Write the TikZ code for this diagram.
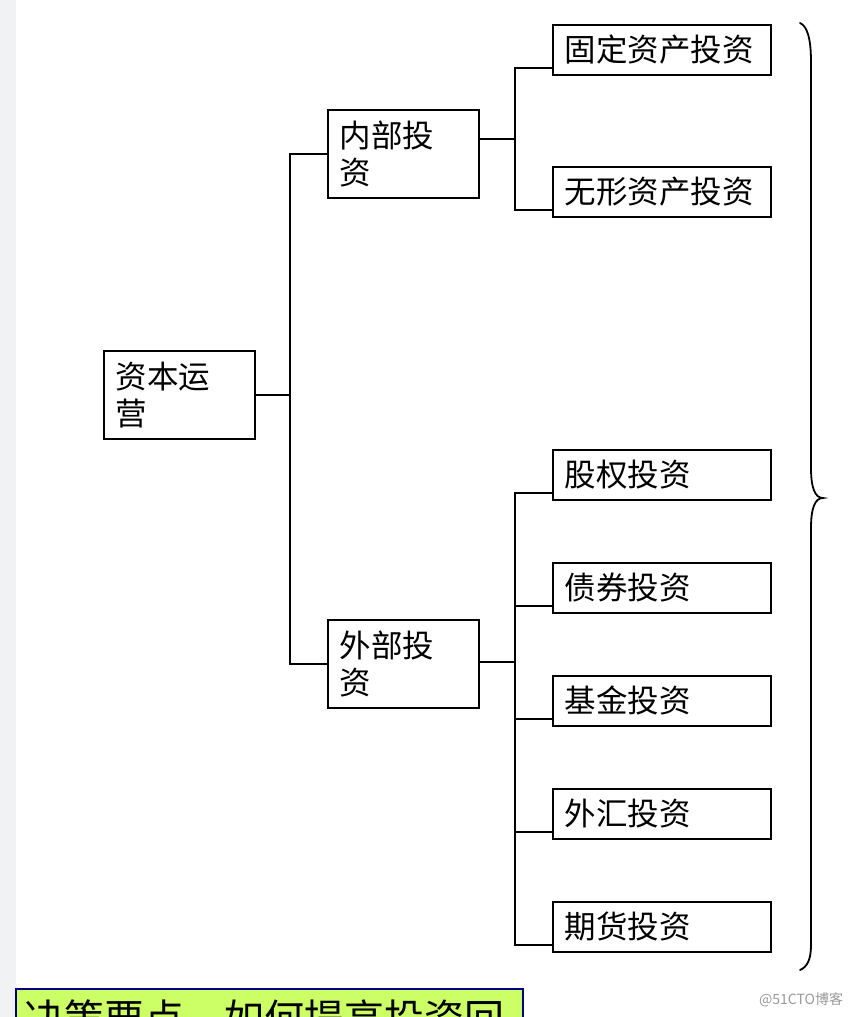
\documentclass[tikz,border=0pt]{standalone}
\usepackage{fontspec}
\newfontfamily\cjk{Noto Sans CJK SC}
\usetikzlibrary{calc}
\definecolor{strip}{HTML}{F1F2F4}
\definecolor{notefill}{HTML}{CCFF66}
\definecolor{noteline}{HTML}{000080}
\begin{document}
\begin{tikzpicture}[x=1pt,y=-1pt,
  box/.style={draw=black, line width=1.8pt, fill=white, anchor=north west,
    inner xsep=12pt, inner ysep=0pt, align=left,
    font=\cjk\fontsize{31.5}{37}\selectfont},
  bigbox/.style={box, minimum width=151pt, minimum height=88pt, text width=127pt},
  leaf/.style={box, minimum width=218pt, minimum height=50pt, text width=194pt},
  conn/.style={draw=black, line width=1.8pt}]
\useasboundingbox (0,0) rectangle (856,1017);
\fill[white] (0,0) rectangle (856,1017);
\fill[strip] (0,0) rectangle (16,1017);

% nodes
\node[bigbox] (zb) at (103,350) {资本运\\营};
\node[bigbox] (ni) at (327,109) {内部投\\资};
\node[bigbox] (wi) at (327,619) {外部投\\资};
\node[leaf] (gd) at (552,24) {固定资产投资};
\node[leaf] (wx) at (552,166) {无形资产投资};
\node[leaf] (gq) at (552,449) {股权投资};
\node[leaf] (zq) at (552,562) {债券投资};
\node[leaf] (jj) at (552,675) {基金投资};
\node[leaf] (wh) at (552,788) {外汇投资};
\node[leaf] (qh) at (552,901) {期货投资};

% connectors
\coordinate (xt) at (290,0);
\coordinate (xb) at (515,0);
\coordinate (t) at (zb.east -| xt);
\coordinate (n1) at ([yshift=15pt]ni.east);
\coordinate (b1) at (n1 -| xb);
\coordinate (w1) at ([yshift=2pt]wi.east);
\coordinate (b2) at (w1 -| xb);
\draw[conn] (zb.east) -- (t);
\draw[conn] (ni.west) -| (t) |- (wi.west);
\draw[conn] (n1) -- (b1);
\draw[conn] ([yshift=8pt]gd.south west) -| (b1) |- ([yshift=8pt]wx.south west);
\draw[conn] (w1) -- (b2);
\draw[conn] ([yshift=8pt]gq.south west) -| (b2) |- ([yshift=8pt]qh.south west);
\draw[conn] ([yshift=8pt]zq.south west) -| (b2);
\draw[conn] ([yshift=8pt]jj.south west) -| (b2);
\draw[conn] ([yshift=8pt]wh.south west) -| (b2);

% brace
\draw[line width=1.8pt, line cap=round]
  (800,23) .. controls (807,26) and (811,38) .. (811,62)
  -- (811,468) .. controls (811,488) and (815,498) .. (823,498)
  .. controls (815,498) and (811,508) .. (811,528)
  -- (811,945) .. controls (811,960) and (807,967) .. (800,970);

% note box at bottom
\node[draw=noteline, line width=1.8pt, fill=notefill, anchor=north west,
  minimum width=507pt, minimum height=70pt, inner sep=0pt] (note) at (15,988) {};
\node[anchor=base west, inner sep=0pt, font=\cjk\fontsize{40}{44}\selectfont]
  (notetxt) at (24,1033) {决策要点，如何提高投资回};

% watermark
\node[anchor=west, inner sep=0pt, text=black!40, font=\cjk\fontsize{14}{16}\selectfont]
  (wm) at (759,1000) {@51CTO博客};
\end{tikzpicture}
\end{document}
